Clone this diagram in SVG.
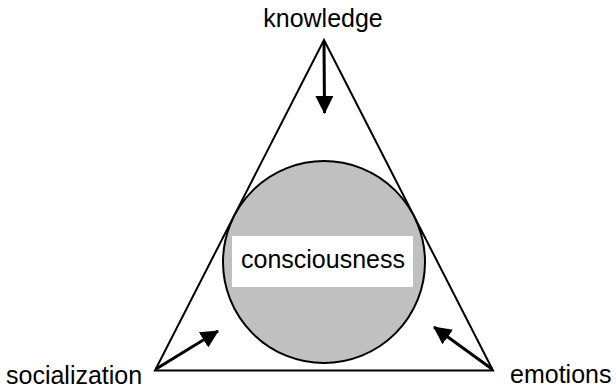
<svg xmlns="http://www.w3.org/2000/svg" width="616" height="388" viewBox="0 0 616 388">
  <style>
    .lbl { font-family: "Liberation Sans", Arial, sans-serif; font-size: 25px; fill: #000; }
    .edge { stroke: #000; stroke-width: 3; fill: none; }
  </style>
  <defs>
    <marker id="ah" markerUnits="userSpaceOnUse" markerWidth="18" markerHeight="18" viewBox="0 0 18 18" refX="17" refY="9" orient="auto">
      <path d="M0,0 L18,9 L0,18 Z" fill="#000"/>
    </marker>
  </defs>
  <rect width="616" height="388" fill="#fff"/>
  <g id="triangle">
    <polygon points="324,40 155,370.5 493,370.5" fill="none" stroke="#000" stroke-width="2"/>
  </g>
  <g id="consciousness">
    <circle cx="324" cy="262" r="101" fill="#c0c0c0" stroke="#000" stroke-width="2"/>
    <rect x="232" y="236" width="181" height="51" fill="#fff"/>
    <text class="lbl" x="323" y="268" text-anchor="middle" font-size="27">consciousness</text>
  </g>
  <g id="knowledge">
    <text class="lbl" x="323" y="27" text-anchor="middle">knowledge</text>
  </g>
  <g id="socialization">
    <text class="lbl" x="6" y="384">socialization</text>
  </g>
  <g id="emotions">
    <text class="lbl" x="510" y="383">emotions</text>
  </g>
  <g id="connectors">
    <line class="edge" x1="324" y1="41" x2="324.5" y2="113" marker-end="url(#ah)"/>
    <line class="edge" x1="156" y1="369" x2="218" y2="331" marker-end="url(#ah)"/>
    <line class="edge" x1="492" y1="369" x2="434" y2="327" marker-end="url(#ah)"/>
  </g>
</svg>
